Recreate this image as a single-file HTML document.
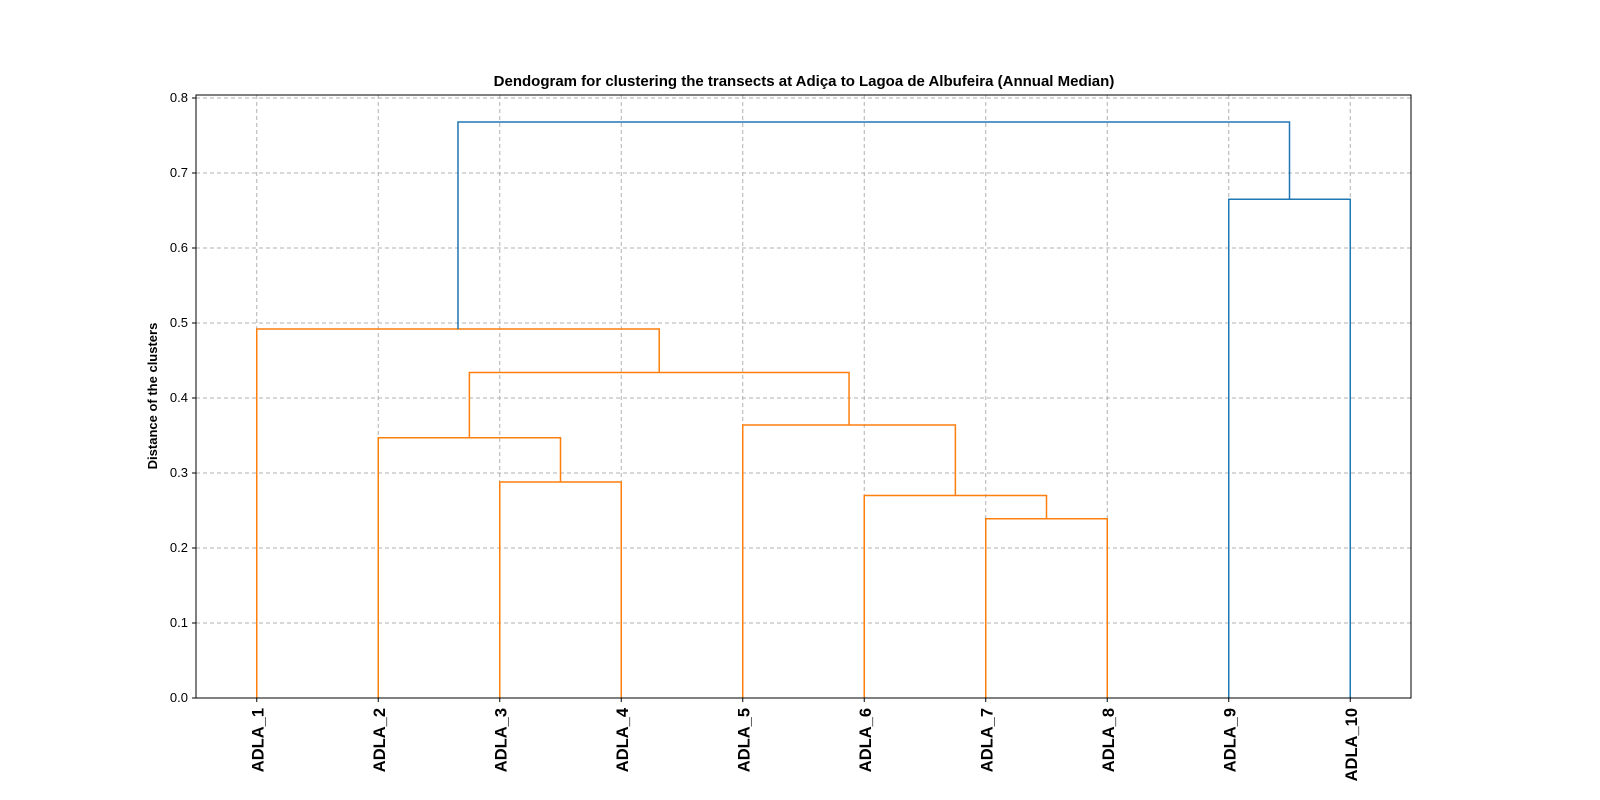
<!DOCTYPE html>
<html><head><meta charset="utf-8"><style>
body{margin:0;background:#fff}
svg{display:block;font-family:"Liberation Sans","DejaVu Sans",sans-serif}
</style></head><body>
<svg id="chart" width="1600" height="800" xmlns="http://www.w3.org/2000/svg">
<rect width="1600" height="800" fill="#fff"/>
<text x="804" y="86" text-anchor="middle" font-size="15" font-weight="bold">Dendogram for clustering the transects at Adiça to Lagoa de Albufeira (Annual Median)</text>
<text transform="translate(157,396) rotate(-90)" text-anchor="middle" font-size="13" font-weight="bold">Distance of the clusters</text>
<g id="grid"></g><g id="links"></g><g id="axes"></g>
</svg>
<script>
const leafLabels=["ADLA_1","ADLA_2","ADLA_3","ADLA_4","ADLA_5","ADLA_6","ADLA_7","ADLA_8","ADLA_9","ADLA_10"];
// merges: [left node, right node, height]; nodes 0-9 leaves, 10+ merges
const mergeLeft=[6,2,5,1,4,13,0,8,16];
const mergeRight=[7,3,10,11,12,14,15,9,17];
const mergeHeight=[0.239,0.288,0.270,0.347,0.364,0.434,0.492,0.665,0.768];
const mergeColor=["o","o","o","o","o","o","o","b","b"];
const yTicks=[0,0.1,0.2,0.3,0.4,0.5,0.6,0.7,0.8];
const colors={o:"#ff7f0e",b:"#1f77b4"};
const L=196,R=1411,T=95,B=698,yMax=0.804;
const NS="http://www.w3.org/2000/svg";
const xs=i=>L+(5+10*i)*(R-L)/100;
const ys=v=>B-(v/yMax)*(B-T);
function mk(tag,attrs,parent){const e=document.createElementNS(NS,tag);for(const k in attrs)e.setAttribute(k,attrs[k]);parent.appendChild(e);return e;}
const grid=document.getElementById('grid'),links=document.getElementById('links'),axes=document.getElementById('axes');
yTicks.forEach(t=>{
  const g=mk('line',{x1:L,x2:R,y1:ys(t),y2:ys(t),stroke:'#b0b0b0','stroke-dasharray':'4,3'},grid);
  
  
  const tk=mk('line',{x1:L-4,x2:L,y1:ys(t),y2:ys(t),stroke:'#000'},axes);
  
  
  const tx=mk('text',{x:L-8,y:ys(t)+4,'text-anchor':'end','font-size':'13'},axes);
  tx.textContent=t.toFixed(1);
  
  
});
leafLabels.forEach((lab,i)=>{
  const x=xs(i);
  const g=mk('line',{x1:x,x2:x,y1:T,y2:B,stroke:'#b0b0b0','stroke-dasharray':'4,3'},grid);
  
  
  const tk=mk('line',{x1:x,x2:x,y1:B,y2:B+4,stroke:'#000'},axes);
  
  
  const tx=mk('text',{transform:`translate(${x+6.5},${B+10}) rotate(-90)`,'text-anchor':'end','font-size':'16.5','font-weight':'bold'},axes);
  tx.textContent=lab;
  
  
});
const nodeX=leafLabels.map((_,i)=>xs(i)),nodeH=leafLabels.map(()=>0);
mergeHeight.forEach((h,k)=>{
  const a=mergeLeft[k],b=mergeRight[k];
  const xa=nodeX[a],xb=nodeX[b],yh=ys(h);
  const p=mk('path',{d:`M${xa},${ys(nodeH[a])}V${yh}H${xb}V${ys(nodeH[b])}`,fill:'none',stroke:colors[mergeColor[k]],'stroke-width':'1.5'},links);
  
  
  nodeX.push((xa+xb)/2);nodeH.push(h);
});
const fr=mk('rect',{x:L,y:T,width:R-L,height:B-T,fill:'none',stroke:'#000','stroke-width':'1'},axes);


</script>
</body></html>
